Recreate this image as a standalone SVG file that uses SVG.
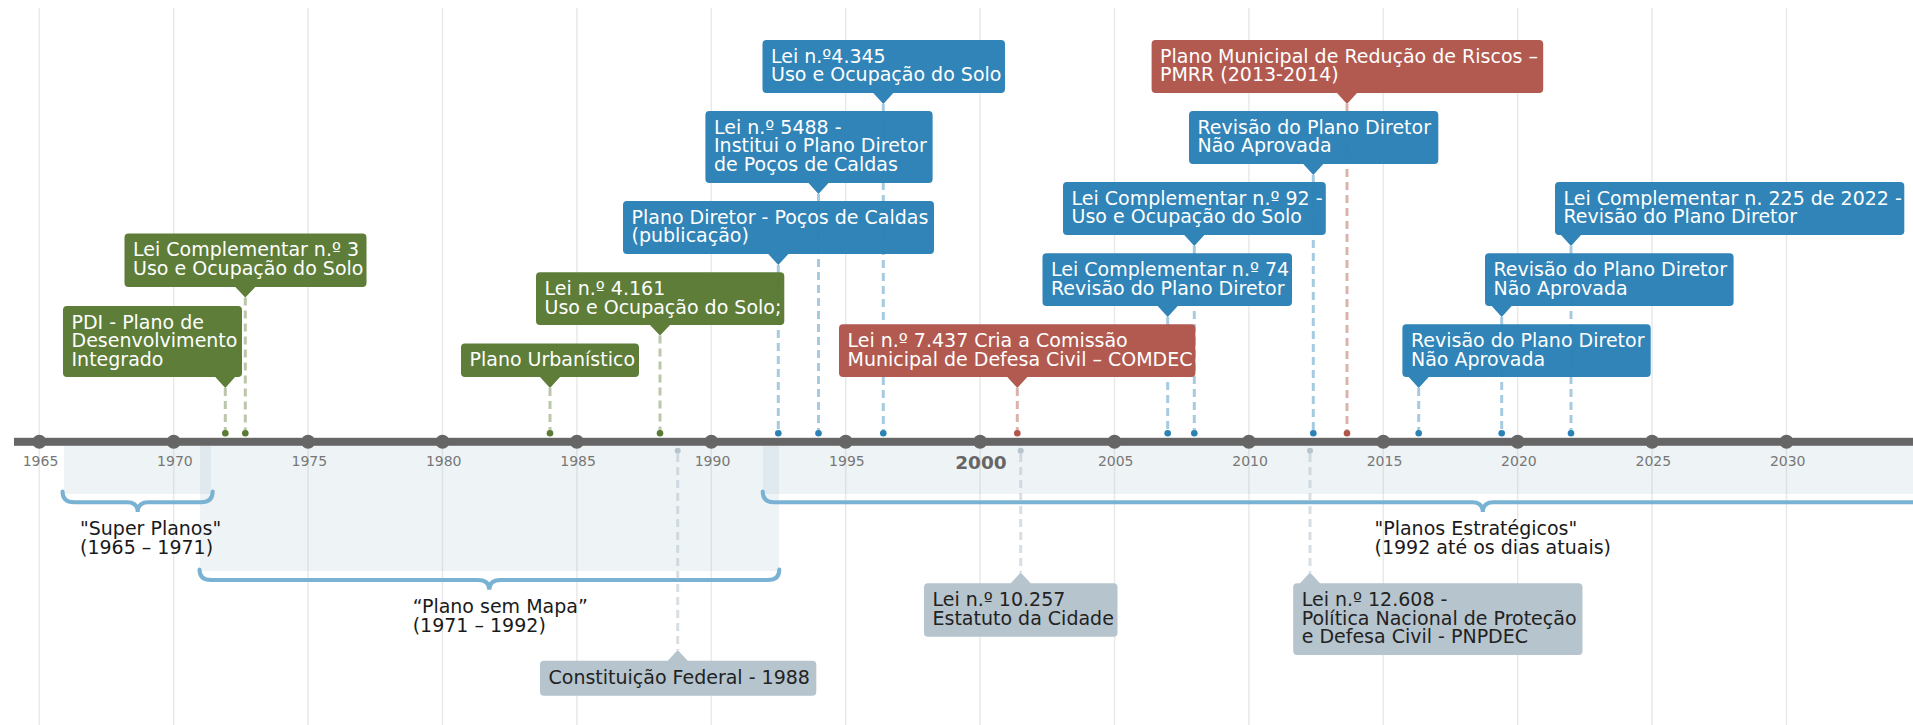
<svg xmlns="http://www.w3.org/2000/svg" width="1913" height="725" viewBox="0 0 1913 725">
<style>
.grid{stroke:#e9e9e9;stroke-width:1.5}
.yr{font-family:"DejaVu Sans",sans-serif;font-size:14px;fill:#777;text-anchor:middle}
.yrb{font-family:"DejaVu Sans",sans-serif;font-size:18.5px;font-weight:bold;fill:#666;text-anchor:middle}
.tick{fill:#666}
.band{fill:#a8c3d3;fill-opacity:0.2}
.brace{fill:none;stroke:#7ab2d4;stroke-width:4;stroke-linecap:round}
.plab{font-family:"DejaVu Sans",sans-serif;font-size:19px;fill:#1a1a1a}
.t{font-family:"DejaVu Sans",sans-serif;font-size:19px;fill:#fff}
.tg{font-family:"DejaVu Sans",sans-serif;font-size:19px;fill:#222}
.g{fill:#587932;fill-opacity:0.97}
.b{fill:#2980b5;fill-opacity:0.97}
.r{fill:#b0554a;fill-opacity:0.97}
.c{fill:#b5c3cc;fill-opacity:0.98}
.lg{stroke:#5a7a35;stroke-opacity:0.42;stroke-width:3;stroke-dasharray:8 5}
.lb{stroke:#2a82b6;stroke-opacity:0.42;stroke-width:3;stroke-dasharray:8 5}
.lr{stroke:#b0564a;stroke-opacity:0.45;stroke-width:3;stroke-dasharray:8 5}
.lc{stroke:#b6c4cd;stroke-opacity:0.55;stroke-width:3;stroke-dasharray:8 5}
.dg{fill:#5a7a35}.db{fill:#2a82b6}.dr{fill:#b0564a}.dc{fill:#b6c4cd}
</style>
<rect width="1913" height="725" fill="#fff"/>
<g id="grid">
<line class="grid" x1="39.3" y1="8" x2="39.3" y2="725"/>
<line class="grid" x1="173.7" y1="8" x2="173.7" y2="725"/>
<line class="grid" x1="308.1" y1="8" x2="308.1" y2="725"/>
<line class="grid" x1="442.5" y1="8" x2="442.5" y2="725"/>
<line class="grid" x1="576.9" y1="8" x2="576.9" y2="725"/>
<line class="grid" x1="711.3" y1="8" x2="711.3" y2="725"/>
<line class="grid" x1="845.7" y1="8" x2="845.7" y2="725"/>
<line class="grid" x1="980.1" y1="8" x2="980.1" y2="725"/>
<line class="grid" x1="1114.5" y1="8" x2="1114.5" y2="725"/>
<line class="grid" x1="1248.9" y1="8" x2="1248.9" y2="725"/>
<line class="grid" x1="1383.3" y1="8" x2="1383.3" y2="725"/>
<line class="grid" x1="1517.7" y1="8" x2="1517.7" y2="725"/>
<line class="grid" x1="1652.1" y1="8" x2="1652.1" y2="725"/>
<line class="grid" x1="1786.5" y1="8" x2="1786.5" y2="725"/>
</g>
<g id="periods">
<rect class="band" x="64" y="446" width="147" height="48"/>
<rect class="band" x="200" y="446" width="579" height="125"/>
<rect class="band" x="763" y="446" width="1150" height="48"/>
<path class="brace" d="M62.5,491.5Q62.5,502.3 74,502.3H127Q137.7,502.3 137.7,512Q137.7,502.3 148.5,502.3H201Q212.7,502.3 212.7,491.5"/>
<path class="brace" d="M199.5,569.5Q199.5,580 211,580H478Q489.3,580 489.3,589.7Q489.3,580 500.5,580H768Q779.3,580 779.3,569.5"/>
<path class="brace" d="M762.7,491.5Q762.7,502.3 774,502.3H1472Q1482.8,502.3 1482.8,512Q1482.8,502.3 1493.5,502.3H1913"/>
<text class="plab" x="80" y="535">"Super Planos"<tspan x="80" y="553.5">(1965 – 1971)</tspan></text>
<text class="plab" x="412.7" y="612.7">“Plano sem Mapa”<tspan x="412.7" y="631.5">(1971 – 1992)</tspan></text>
<text class="plab" x="1374.5" y="535">"Planos Estratégicos"<tspan x="1374.5" y="553.5">(1992 até os dias atuais)</tspan></text>
</g>
<g id="connectors">
<line class="lg" x1="225.3" y1="388" x2="225.3" y2="431"/>
<line class="lg" x1="245.3" y1="297.5" x2="245.3" y2="431"/>
<line class="lg" x1="550" y1="388" x2="550" y2="431"/>
<line class="lg" x1="660" y1="335.5" x2="660" y2="431"/>
<line class="lb" x1="778.3" y1="265" x2="778.3" y2="431"/>
<line class="lb" x1="818.5" y1="194" x2="818.5" y2="431"/>
<line class="lb" x1="883.3" y1="104" x2="883.3" y2="431"/>
<line class="lr" x1="1017.3" y1="388" x2="1017.3" y2="431"/>
<line class="lb" x1="1167.7" y1="317" x2="1167.7" y2="431"/>
<line class="lb" x1="1194.3" y1="246" x2="1194.3" y2="431"/>
<line class="lb" x1="1313.3" y1="175" x2="1313.3" y2="431"/>
<line class="lr" x1="1347" y1="104" x2="1347" y2="431"/>
<line class="lb" x1="1418.7" y1="388" x2="1418.7" y2="431"/>
<line class="lb" x1="1501.7" y1="317" x2="1501.7" y2="431"/>
<line class="lb" x1="1571" y1="246" x2="1571" y2="431"/>
<line class="lc" x1="677.7" y1="454" x2="677.7" y2="650"/>
<line class="lc" x1="1020.7" y1="454" x2="1020.7" y2="572.5"/>
<line class="lc" x1="1310" y1="454" x2="1310" y2="572.5"/>
</g>
<g id="axis">
<rect x="14" y="437.8" width="1899" height="8" fill="#666"/>
<circle class="tick" cx="39.3" cy="441.8" r="7"/>
<circle class="tick" cx="173.7" cy="441.8" r="7"/>
<circle class="tick" cx="308.1" cy="441.8" r="7"/>
<circle class="tick" cx="442.5" cy="441.8" r="7"/>
<circle class="tick" cx="576.9" cy="441.8" r="7"/>
<circle class="tick" cx="711.3" cy="441.8" r="7"/>
<circle class="tick" cx="845.7" cy="441.8" r="7"/>
<circle class="tick" cx="980.1" cy="441.8" r="7"/>
<circle class="tick" cx="1114.5" cy="441.8" r="7"/>
<circle class="tick" cx="1248.9" cy="441.8" r="7"/>
<circle class="tick" cx="1383.3" cy="441.8" r="7"/>
<circle class="tick" cx="1517.7" cy="441.8" r="7"/>
<circle class="tick" cx="1652.1" cy="441.8" r="7"/>
<circle class="tick" cx="1786.5" cy="441.8" r="7"/>
<text class="yr" x="40.5" y="465.5">1965</text>
<text class="yr" x="174.9" y="465.5">1970</text>
<text class="yr" x="309.3" y="465.5">1975</text>
<text class="yr" x="443.7" y="465.5">1980</text>
<text class="yr" x="578.1" y="465.5">1985</text>
<text class="yr" x="712.5" y="465.5">1990</text>
<text class="yr" x="846.9" y="465.5">1995</text>
<text class="yrb" x="981" y="469.3">2000</text>
<text class="yr" x="1115.7" y="465.5">2005</text>
<text class="yr" x="1250.1" y="465.5">2010</text>
<text class="yr" x="1384.5" y="465.5">2015</text>
<text class="yr" x="1518.9" y="465.5">2020</text>
<text class="yr" x="1653.3" y="465.5">2025</text>
<text class="yr" x="1787.7" y="465.5">2030</text>
<circle class="dg" cx="225.3" cy="433.3" r="3.3"/>
<circle class="dg" cx="245.3" cy="433.3" r="3.3"/>
<circle class="dg" cx="550" cy="433.3" r="3.3"/>
<circle class="dg" cx="660" cy="433.3" r="3.3"/>
<circle class="db" cx="778.3" cy="433.3" r="3.3"/>
<circle class="db" cx="818.5" cy="433.3" r="3.3"/>
<circle class="db" cx="883.3" cy="433.3" r="3.3"/>
<circle class="dr" cx="1017.3" cy="433.3" r="3.3"/>
<circle class="db" cx="1167.7" cy="433.3" r="3.3"/>
<circle class="db" cx="1194.3" cy="433.3" r="3.3"/>
<circle class="db" cx="1313.3" cy="433.3" r="3.3"/>
<circle class="dr" cx="1347" cy="433.3" r="3.3"/>
<circle class="db" cx="1418.7" cy="433.3" r="3.3"/>
<circle class="db" cx="1501.7" cy="433.3" r="3.3"/>
<circle class="db" cx="1571" cy="433.3" r="3.3"/>
<circle class="dc" cx="677.7" cy="450.7" r="3"/>
<circle class="dc" cx="1020.7" cy="450.7" r="3"/>
<circle class="dc" cx="1310" cy="450.7" r="3"/>
</g>
<g id="pdi">
<path class="g" d="M67,306H238Q242,306 242,310V373Q242,377 238,377H235L225.3,388L215.3,377H67Q63,377 63,373V310Q63,306 67,306Z"/>
<text class="t" x="71.5" y="328.5">PDI - Plano de<tspan x="71.5" y="347.3">Desenvolvimento</tspan><tspan x="71.5" y="366.1">Integrado</tspan></text>
</g>
<g id="lc3">
<path class="g" d="M128.5,233.5H362.5Q366.5,233.5 366.5,237.5V283Q366.5,287 362.5,287H255.3L245.3,297.5L235.3,287H128.5Q124.5,287 124.5,283V237.5Q124.5,233.5 128.5,233.5Z"/>
<text class="t" x="133" y="256">Lei Complementar n.º 3<tspan x="133" y="274.8">Uso e Ocupação do Solo</tspan></text>
</g>
<g id="plano-urbanistico">
<path class="g" d="M465,343.5H635Q639,343.5 639,347.5V373Q639,377 635,377H560L550,388L540,377H465Q461,377 461,373V347.5Q461,343.5 465,343.5Z"/>
<text class="t" x="469.5" y="366">Plano Urbanístico</text>
</g>
<g id="lei4161">
<path class="g" d="M540,272.3H780.3Q784.3,272.3 784.3,276.3V321Q784.3,325 780.3,325H670L660,335.5L650,325H540Q536,325 536,321V276.3Q536,272.3 540,272.3Z"/>
<text class="t" x="544.5" y="294.8">Lei n.º 4.161<tspan x="544.5" y="313.6">Uso e Ocupação do Solo;</tspan></text>
</g>
<g id="plano-diretor-pub">
<path class="b" d="M627,201H930Q934,201 934,205V250Q934,254 930,254H788.3L778.3,265L768.3,254H627Q623,254 623,250V205Q623,201 627,201Z"/>
<text class="t" x="631.5" y="223.5">Plano Diretor - Poços de Caldas<tspan x="631.5" y="242.3">(publicação)</tspan></text>
</g>
<g id="lei5488">
<path class="b" d="M709.4,111H928.6Q932.6,111 932.6,115V179Q932.6,183 928.6,183H828.5L818.5,194L808.5,183H709.4Q705.4,183 705.4,179V115Q705.4,111 709.4,111Z"/>
<text class="t" x="714" y="133.5">Lei n.º 5488 -<tspan x="714" y="152.3">Institui o Plano Diretor</tspan><tspan x="714" y="171.1">de Poços de Caldas</tspan></text>
</g>
<g id="lei4345">
<path class="b" d="M766.5,40H1001Q1005,40 1005,44V89Q1005,93 1001,93H893.3L883.3,104L873.3,93H766.5Q762.5,93 762.5,89V44Q762.5,40 766.5,40Z"/>
<text class="t" x="771" y="62.5">Lei n.º4.345<tspan x="771" y="81.3">Uso e Ocupação do Solo</tspan></text>
</g>
<g id="lei7437">
<path class="r" d="M843,324.3H1191.4Q1195.4,324.3 1195.4,328.3V373Q1195.4,377 1191.4,377H1027.3L1017.3,388L1007.3,377H843Q839,377 839,373V328.3Q839,324.3 843,324.3Z"/>
<text class="t" x="847.5" y="346.8">Lei n.º 7.437 Cria a Comissão<tspan x="847.5" y="365.6">Municipal de Defesa Civil – COMDEC</tspan></text>
</g>
<g id="pmrr">
<path class="r" d="M1155.6,40H1539.2Q1543.2,40 1543.2,44V89Q1543.2,93 1539.2,93H1357L1347,104L1337,93H1155.6Q1151.6,93 1151.6,89V44Q1151.6,40 1155.6,40Z"/>
<text class="t" x="1160" y="62.5">Plano Municipal de Redução de Riscos –<tspan x="1160" y="81.3">PMRR (2013-2014)</tspan></text>
</g>
<g id="revisao1">
<path class="b" d="M1193,111H1434.3Q1438.3,111 1438.3,115V160Q1438.3,164 1434.3,164H1323.3L1313.3,175L1303.3,164H1193Q1189,164 1189,160V115Q1189,111 1193,111Z"/>
<text class="t" x="1197.5" y="133.5">Revisão do Plano Diretor<tspan x="1197.5" y="152.3">Não Aprovada</tspan></text>
</g>
<g id="lc92">
<path class="b" d="M1067,182H1321.8Q1325.8,182 1325.8,186V231Q1325.8,235 1321.8,235H1204.3L1194.3,246L1184.3,235H1067Q1063,235 1063,231V186Q1063,182 1067,182Z"/>
<text class="t" x="1071.5" y="204.5">Lei Complementar n.º 92 -<tspan x="1071.5" y="223.3">Uso e Ocupação do Solo</tspan></text>
</g>
<g id="lc74">
<path class="b" d="M1046.5,253.3H1288Q1292,253.3 1292,257.3V302Q1292,306 1288,306H1177.7L1167.7,317L1157.7,306H1046.5Q1042.5,306 1042.5,302V257.3Q1042.5,253.3 1046.5,253.3Z"/>
<text class="t" x="1051" y="275.8">Lei Complementar n.º 74<tspan x="1051" y="294.6">Revisão do Plano Diretor</tspan></text>
</g>
<g id="lc225">
<path class="b" d="M1559,182H1900.3Q1904.3,182 1904.3,186V231Q1904.3,235 1900.3,235H1581L1571,246L1561,235H1559Q1555,235 1555,231V186Q1555,182 1559,182Z"/>
<text class="t" x="1563.5" y="204.5">Lei Complementar n. 225 de 2022 -<tspan x="1563.5" y="223.3">Revisão do Plano Diretor</tspan></text>
</g>
<g id="revisao2">
<path class="b" d="M1489,253.3H1729.6Q1733.6,253.3 1733.6,257.3V302Q1733.6,306 1729.6,306H1511.7L1501.7,317L1491.7,306H1489Q1485,306 1485,302V257.3Q1485,253.3 1489,253.3Z"/>
<text class="t" x="1493.5" y="275.8">Revisão do Plano Diretor<tspan x="1493.5" y="294.6">Não Aprovada</tspan></text>
</g>
<g id="revisao3">
<path class="b" d="M1406.4,324.3H1646.7Q1650.7,324.3 1650.7,328.3V373Q1650.7,377 1646.7,377H1428.7L1418.7,388L1408.7,377H1406.4Q1402.4,377 1402.4,373V328.3Q1402.4,324.3 1406.4,324.3Z"/>
<text class="t" x="1411" y="346.8">Revisão do Plano Diretor<tspan x="1411" y="365.6">Não Aprovada</tspan></text>
</g>
<g id="constituicao">
<path class="c" d="M544,660.7H667.7L677.7,650L687.7,660.7H812.3Q816.3,660.7 816.3,664.7V691.7Q816.3,695.7 812.3,695.7H544Q540,695.7 540,691.7V664.7Q540,660.7 544,660.7Z"/>
<text class="tg" x="548.5" y="683.5">Constituição Federal - 1988</text>
</g>
<g id="lei10257">
<path class="c" d="M928,583.3H1010.7L1020.7,572.5L1030.7,583.3H1113.5Q1117.5,583.3 1117.5,587.3V632.7Q1117.5,636.7 1113.5,636.7H928Q924,636.7 924,632.7V587.3Q924,583.3 928,583.3Z"/>
<text class="tg" x="932.5" y="605.8">Lei n.º 10.257<tspan x="932.5" y="624.6">Estatuto da Cidade</tspan></text>
</g>
<g id="lei12608">
<path class="c" d="M1297.2,583.3H1300L1310,572.5L1320,583.3H1578.5Q1582.5,583.3 1582.5,587.3V651Q1582.5,655 1578.5,655H1297.2Q1293.2,655 1293.2,651V587.3Q1293.2,583.3 1297.2,583.3Z"/>
<text class="tg" x="1301.7" y="605.8">Lei n.º 12.608 -<tspan x="1301.7" y="624.6">Política Nacional de Proteção</tspan><tspan x="1301.7" y="643.4">e Defesa Civil - PNPDEC</tspan></text>
</g>
</svg>
